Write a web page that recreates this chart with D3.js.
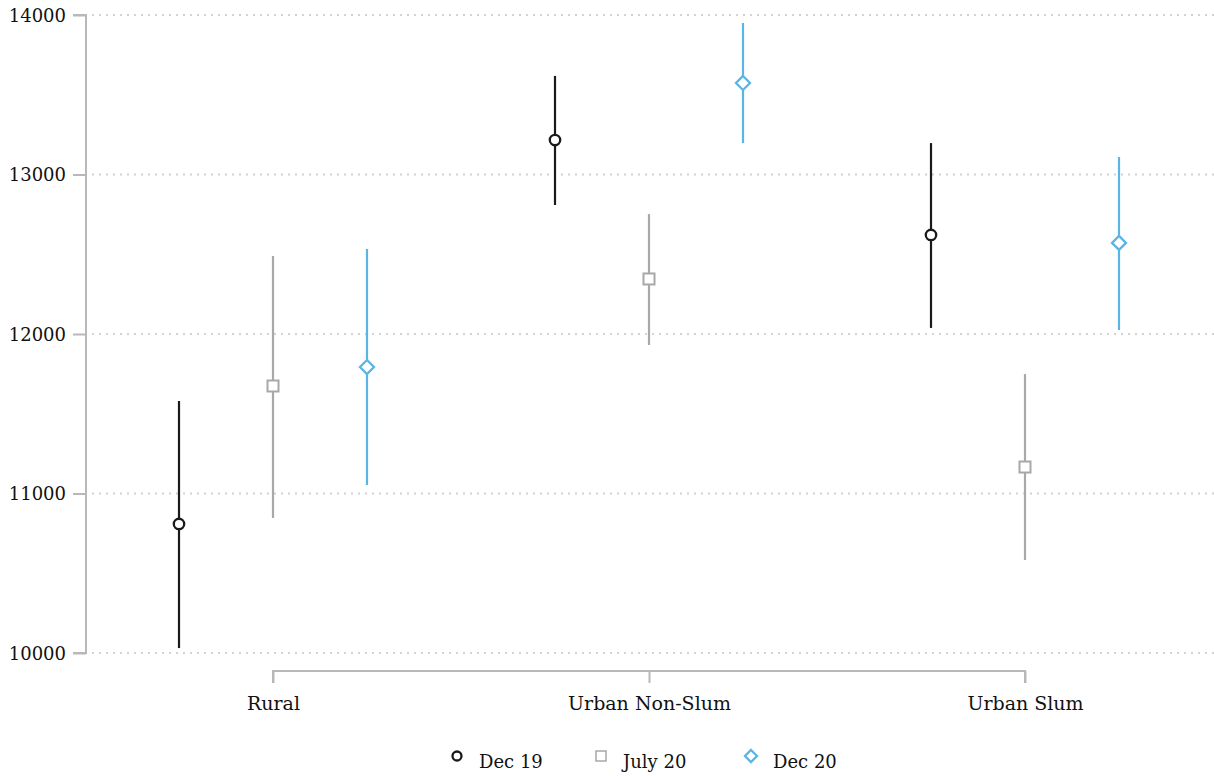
<!DOCTYPE html>
<html lang="en">
<head>
    <meta charset="UTF-8">
    <title>Chart</title>
    <style>
        body { margin: 0; background: #fff; }
        text { font-family: "DejaVu Serif", "Liberation Serif", serif; fill: #111; }
        .grid line { stroke: #d2d2d2; stroke-width: 2; stroke-dasharray: 2, 5; }
    </style>
</head>
<body>
    <svg width="1214" height="776" id="svg"></svg>
    <script src="https://d3js.org/d3.v7.min.js"></script>
    <script>
        // categories and series
        const categories = ["Rural", "Urban Non-Slum", "Urban Slum"]
        const seriesNames = ["Dec 19", "July 20", "Dec 20"]
        const yTicks = [10000, 11000, 12000, 13000, 14000]

        // point estimates, one array per series (order = categories)
        const dec19 = [10809, 13216, 12621]
        const july20 = [11674, 12345, 11166]
        const dec20 = [11793, 13574, 12571]

        // confidence intervals [low, high]
        const dec19Ci = [[10031, 11580], [12809, 13618], [12038, 13197]]
        const july20Ci = [[10846, 12489], [11931, 12752], [10583, 11749]]
        const dec20Ci = [[11053, 12533], [13197, 13950], [12025, 13110]]

        const colors = ["#1a1a1a", "#a8a8a8", "#5bb4e6"]
        const shapes = ["circle", "square", "diamond"]

        const svg = d3.select("svg#svg")
        const margin = { left: 86, top: 15, bottom: 123 }
        const yScale = d3.scaleLinear().domain([10000, 14000]).range([653, 15])
        const xScale = d3.scalePoint().domain(categories).range([273, 1025])
        const offset = d3.scalePoint().domain(seriesNames).range([-94, 94])

        // gridlines
        svg.append("g").attr("class", "grid")
            .selectAll("line").data(yTicks).join("line")
            .attr("x1", 92).attr("x2", 1214)
            .attr("y1", d => yScale(d)).attr("y2", d => yScale(d))

        // y axis
        const yAxis = svg.append("g")
            .attr("transform", `translate(${margin.left},0)`)
            .call(d3.axisLeft(yScale).tickValues(yTicks).tickSize(13).tickPadding(7).tickFormat(d3.format("d")))
        yAxis.select(".domain").attr("stroke", "#b8b8b8").attr("stroke-width", 2).attr("d", `M-13,${yScale(14000)}H0V${yScale(10000)}H-13`)
        yAxis.selectAll(".tick line").attr("stroke", "#b8b8b8").attr("stroke-width", 2)
        yAxis.selectAll(".tick text").style("font-size", "18px").attr("dy", "0.36em")

        // x axis
        const xAxis = svg.append("g")
            .attr("transform", "translate(0,671)")
            .call(d3.axisBottom(xScale).tickSize(12).tickPadding(14))
        xAxis.select(".domain").attr("stroke", "#b8b8b8").attr("stroke-width", 2).attr("d", `M${xScale(categories[0])},12V0H${xScale(categories[2])}V12`)
        xAxis.selectAll(".tick line").attr("stroke", "#b8b8b8").attr("stroke-width", 2)
        xAxis.selectAll(".tick text").style("font-size", "19px")

        const series = [
            { name: seriesNames[0], values: dec19, ci: dec19Ci },
            { name: seriesNames[1], values: july20, ci: july20Ci },
            { name: seriesNames[2], values: dec20, ci: dec20Ci }
        ]

        function marker(sel, shape, color) {
            if (shape === "circle") {
                sel.append("circle").attr("r", 5.2).attr("fill", "#fff").attr("stroke", color).attr("stroke-width", 2.3)
            } else if (shape === "square") {
                sel.append("rect").attr("x", -5.5).attr("y", -5.5).attr("width", 11).attr("height", 11)
                    .attr("fill", "#fff").attr("stroke", color).attr("stroke-width", 2)
            } else {
                sel.append("path").attr("d", "M0,-7L7,0L0,7L-7,0Z")
                    .attr("fill", "#fff").attr("stroke", color).attr("stroke-width", 2.3)
            }
        }

        series.forEach((s, si) => {
            const g = svg.append("g")
            categories.forEach((c, ci) => {
                const x = xScale(c) + offset(s.name)
                g.append("line")
                    .attr("x1", x).attr("x2", x)
                    .attr("y1", yScale(s.ci[ci][0])).attr("y2", yScale(s.ci[ci][1]))
                    .attr("stroke", colors[si]).attr("stroke-width", 2.2)
                const m = g.append("g").attr("transform", `translate(${x},${yScale(s.values[ci])})`)
                marker(m, shapes[si], colors[si])
            })
        })

        // legend
        const legendX = [457, 601, 751]
        const legend = svg.append("g")
        seriesNames.forEach((n, i) => {
            const m = legend.append("g").attr("transform", `translate(${legendX[i]},756)`)
            if (i === 0) m.append("circle").attr("r", 4.5).attr("fill", "#fff").attr("stroke", colors[0]).attr("stroke-width", 2.3)
            else if (i === 1) m.append("rect").attr("x", -5).attr("y", -5).attr("width", 10).attr("height", 10).attr("fill", "#fff").attr("stroke", colors[1]).attr("stroke-width", 1.5)
            else m.append("path").attr("d", "M0,-6L6,0L0,6L-6,0Z").attr("fill", "#fff").attr("stroke", colors[2]).attr("stroke-width", 2.3)
            legend.append("text").attr("x", legendX[i] + 22).attr("y", 768)
                .style("font-size", "18px").text(n)
        })
    </script>
</body>
</html>
